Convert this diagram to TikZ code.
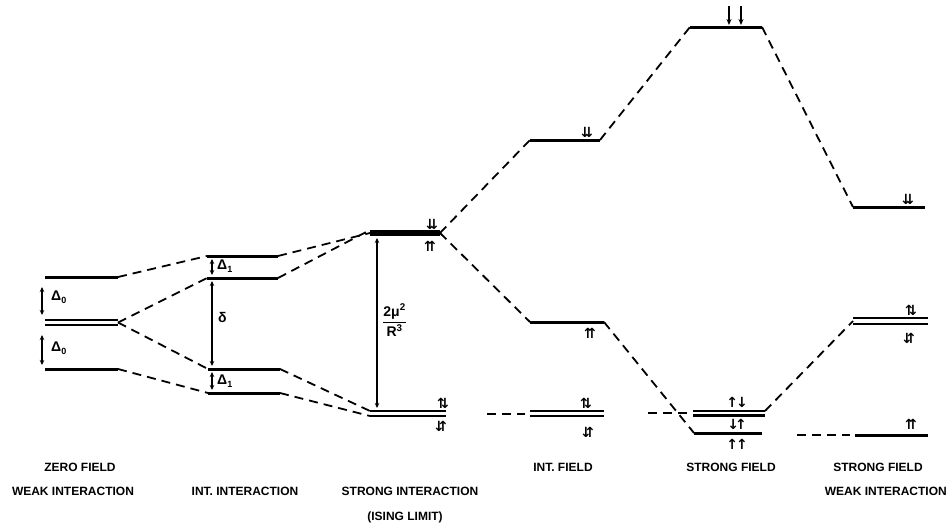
\documentclass[tikz,border=0pt]{standalone}
\usepackage{amsmath}
\usepackage{fontspec}
\setmainfont{Liberation Sans}
\newfontfamily\arr{DejaVu Sans}
\usetikzlibrary{arrows.meta}
\newcommand{\dsub}[1]{\textbf{Δ}\raisebox{-2.5pt}{\fontsize{9}{9}\selectfont\textbf{#1}}}
\begin{document}
\begin{tikzpicture}[x=1pt,y=-1pt,
  lvl/.style={line width=3pt},
  thicklvl/.style={line width=5.5pt},
  dbl/.style={line width=2.6pt},
  conn/.style={dash pattern=on 9pt off 6pt, line width=1.8pt},
  gap/.style={{Stealth[length=5pt,width=4.5pt]}-{Stealth[length=5pt,width=4.5pt]}, line width=1.2pt},
  down/.style={-{Stealth[length=6pt,width=5pt]}, line width=1.4pt},
  lab/.style={font=\fontsize{12}{12}\selectfont\bfseries, inner sep=0pt},
  sym/.style={font=\fontsize{14}{14}\selectfont\bfseries, inner sep=0pt},
  spin/.style={font=\arr\bfseries\fontsize{14}{14}\selectfont, inner sep=0pt}]
\useasboundingbox (0,0) rectangle (948,523);

% ---- column 1: zero field, weak interaction
\coordinate (a1l) at (45,277); \coordinate (a1r) at (118,277);
\coordinate (a2l) at (45,320); \coordinate (a2r) at (118,320);
\coordinate (a2bl) at (45,325); \coordinate (a2br) at (118,325);
\coordinate (a2c) at (118,322.5);
\coordinate (a3l) at (45,369); \coordinate (a3r) at (118,369);
\draw[lvl] (a1l) -- (a1r);
\draw[dbl] (a2l) -- (a2r);
\draw[dbl] (a2bl) -- (a2br);
\draw[lvl] (a3l) -- (a3r);
\coordinate (g1t) at (42,287); \coordinate (g1b) at (42,315);
\coordinate (g2t) at (42,335); \coordinate (g2b) at (42,365);
\draw[gap] (g1t) -- (g1b);
\draw[gap] (g2t) -- (g2b);
\node[sym, anchor=west] (d0a) at (51,297) {\dsub{0}};
\node[sym, anchor=west] (d0b) at (51,348) {\dsub{0}};

% ---- column 2: int. interaction
\coordinate (b1l) at (207,256); \coordinate (b1r) at (278,256);
\coordinate (b2l) at (207,278); \coordinate (b2r) at (278,278);
\coordinate (b3l) at (208,369); \coordinate (b3r) at (280,369);
\coordinate (b4l) at (208,393); \coordinate (b4r) at (280,393);
\draw[lvl] (b1l) -- (b1r);
\draw[lvl] (b2l) -- (b2r);
\draw[lvl] (b3l) -- (b3r);
\draw[lvl] (b4l) -- (b4r);
\coordinate (g3t) at (212,259); \coordinate (g3b) at (212,275);
\coordinate (g4t) at (212,281); \coordinate (g4b) at (212,366);
\coordinate (g5t) at (212,372); \coordinate (g5b) at (212,390);
\draw[gap] (g3t) -- (g3b);
\draw[gap] (g4t) -- (g4b);
\draw[gap] (g5t) -- (g5b);
\node[sym, anchor=west] (d1a) at (217,266) {\dsub{1}};
\node[sym, anchor=west] (dl) at (218,317) {δ};
\node[sym, anchor=west] (d1b) at (217,381) {\dsub{1}};

% ---- column 3: strong interaction (Ising limit)
\coordinate (c1l) at (370,233); \coordinate (c1r) at (440,233);
\coordinate (c2l) at (370,411); \coordinate (c2r) at (446,411);
\coordinate (c2bl) at (370,416); \coordinate (c2br) at (446,416);
\draw[thicklvl] (c1l) -- (c1r);
\draw[dbl] (c2l) -- (c2r);
\draw[dbl] (c2bl) -- (c2br);
\coordinate (g6t) at (377,238); \coordinate (g6b) at (377,408);
\draw[gap] (g6t) -- (g6b);
\node[sym, anchor=west] (frac) at (382,320) {$\dfrac{\textbf{2μ}^{\textbf{2}}}{\textbf{R}^{\textbf{3}}}$};
\node[spin] (s1) at (432,224) {⇊};
\node[spin] (s2) at (430,246) {⇈};
\node[spin] (s3) at (443,403) {⇅};
\node[spin] (s4) at (441,426) {⇵};

% ---- column 4: int. field
\coordinate (d1l) at (530,140); \coordinate (d1r) at (600,140);
\coordinate (d2l) at (530,322); \coordinate (d2r) at (604,322);
\coordinate (d3l) at (530,411); \coordinate (d3r) at (604,411);
\coordinate (d3bl) at (530,416); \coordinate (d3br) at (604,416);
\draw[lvl] (d1l) -- (d1r);
\draw[lvl] (d2l) -- (d2r);
\draw[dbl] (d3l) -- (d3r);
\draw[dbl] (d3bl) -- (d3br);
\node[spin] (s5) at (587,132) {⇊};
\node[spin] (s6) at (590,333) {⇈};
\node[spin] (s7) at (586,403) {⇅};
\node[spin] (s8) at (588,432) {⇵};

% ---- column 5: strong field
\coordinate (e1l) at (690,27); \coordinate (e1r) at (762,27);
\coordinate (e2l) at (693,411); \coordinate (e2r) at (765,411);
\coordinate (e2bl) at (693,415.5); \coordinate (e2br) at (765,415.5);
\coordinate (e3l) at (694,433); \coordinate (e3r) at (762,433);
\draw[lvl] (e1l) -- (e1r);
\draw[dbl] (e2l) -- (e2r);
\draw[dbl] (e2bl) -- (e2br);
\draw[lvl] (e3l) -- (e3r);
\coordinate (p1t) at (729,6); \coordinate (p1b) at (729,25);
\coordinate (p2t) at (741,6); \coordinate (p2b) at (741,25);
\draw[down] (p1t) -- (p1b);
\draw[down] (p2t) -- (p2b);
\node[spin] (s9) at (737,402) {↑\kern-2pt↓};
\node[spin] (s10) at (737,424) {↓\kern-4pt↑};
\node[spin] (s11) at (737,444) {↑\kern-2pt↑};

% ---- column 6: strong field, weak interaction
\coordinate (f1l) at (853,207); \coordinate (f1r) at (925,207);
\coordinate (f2l) at (853,318); \coordinate (f2r) at (928,318);
\coordinate (f2bl) at (853,324); \coordinate (f2br) at (928,324);
\coordinate (f2c) at (853,321);
\coordinate (f3l) at (855,435); \coordinate (f3r) at (928,435);
\draw[lvl] (f1l) -- (f1r);
\draw[dbl] (f2l) -- (f2r);
\draw[dbl] (f2bl) -- (f2br);
\draw[lvl] (f3l) -- (f3r);
\node[spin] (s12) at (908,199) {⇊};
\node[spin] (s13) at (911,310) {⇅};
\node[spin] (s14) at (909,338) {⇵};
\node[spin] (s15) at (911,424) {⇈};

% ---- dashed correlation lines
\draw[conn] (a1r) -- (b1l);
\draw[conn] (a2c) -- (b2l);
\draw[conn] (a2c) -- (b3l);
\draw[conn] (a3r) -- (b4l);
\draw[conn] (b1r) -- (c1l);
\draw[conn] (b2r) -- ([yshift=3pt]c1l);
\draw[conn] (b3r) -- (c2l);
\draw[conn] (b4r) -- (c2bl);
\draw[conn] (c1r) -- (d1l);
\draw[conn] (c1r) -- (d2l);
\coordinate (h1) at (487,414); \coordinate (h1e) at (525,414);
\draw[conn] (h1) -- (h1e);
\draw[conn] (d1r) -- (e1l);
\draw[conn] (d2r) -- (e3l);
\coordinate (h2) at (648,413); \coordinate (h2e) at (688,413);
\draw[conn] (h2) -- (h2e);
\draw[conn] (e1r) -- (f1l);
\draw[conn] (e2r) -- (f2c);
\coordinate (h3) at (797,435); \coordinate (h3e) at (850,435);
\draw[conn] (h3) -- (h3e);

% ---- captions
\node[lab] (t1) at (80,467) {ZERO FIELD};
\node[lab] (t2) at (73,491) {WEAK INTERACTION};
\node[lab] (t3) at (245,491) {INT. INTERACTION};
\node[lab] (t4) at (410,491) {STRONG INTERACTION};
\node[lab] (t5) at (405,517) {(ISING LIMIT)};
\node[lab] (t6) at (563,467) {INT. FIELD};
\node[lab] (t7) at (731,467) {STRONG FIELD};
\node[lab] (t8) at (878,467) {STRONG FIELD};
\node[lab, anchor=east] (t9) at (947,491) {WEAK INTERACTION};
\end{tikzpicture}
\end{document}
